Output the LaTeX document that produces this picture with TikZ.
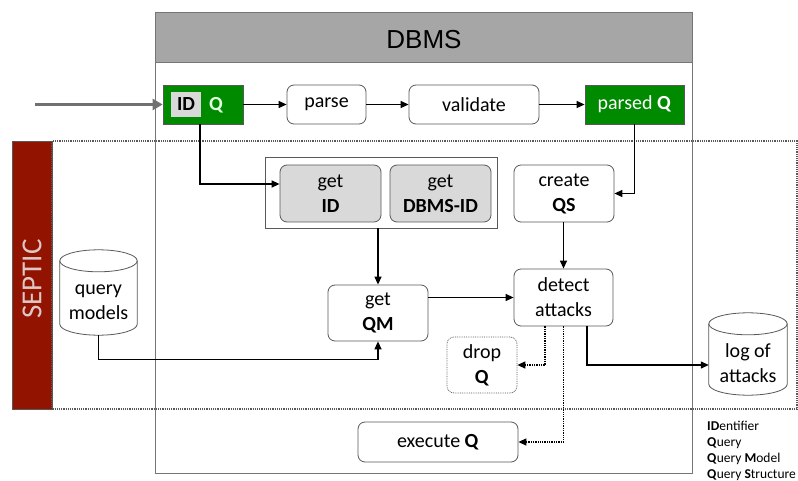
\documentclass[tikz,border=0pt]{standalone}
\usepackage{fontspec}
\setmainfont{Carlito}
\newfontfamily\headfont{Liberation Sans}
\usetikzlibrary{arrows.meta,calc}

\definecolor{hdrgray}{RGB}{166,166,166}
\definecolor{edge}{RGB}{89,89,89}
\definecolor{outer}{RGB}{118,118,118}
\definecolor{boxgray}{RGB}{217,217,217}
\definecolor{okgreen}{RGB}{0,138,0}
\definecolor{septred}{RGB}{145,19,0}
\definecolor{septtxt}{RGB}{222,200,198}
\definecolor{inarrow}{RGB}{112,112,112}

\tikzset{
  stepbox/.style={draw=edge, line width=0.8pt, rounded corners=7pt, fill=white,
    align=center, inner sep=0pt, font=\fontsize{20}{25}\selectfont},
  graybox/.style={stepbox, fill=boxgray},
  greenbox/.style={draw=edge, line width=0.8pt, fill=okgreen, text=white,
    inner sep=0pt, font=\fontsize{20}{25}\selectfont},
  dropbox/.style={stepbox, draw=edge, densely dotted},
  cylnode/.style={inner sep=0pt, minimum width=77pt},
  cyltext/.style={align=center, inner sep=0pt, font=\fontsize{20}{25}\selectfont},
  arr/.style={line width=1.3pt, -{Triangle[length=8pt,width=7pt]}},
  dotarr/.style={line width=1.3pt, densely dotted, -{Triangle[length=8pt,width=7pt]}},
  cylline/.style={draw=edge, line width=0.8pt, fill=white},
}

% cylinder outline around node #1 (top ellipse y radius #2)
\newcommand{\drawcyl}[2]{%
  \path let \p1=(#1.north west), \p2=(#1.south east) in
    \pgfextra{\pgfmathsetmacro{\rx}{(\x2-\x1)/2}}
    [cylline] (\x1,\y1-#2pt) -- (\x1,\y2+#2pt)
      arc[start angle=180, end angle=360, x radius=\rx pt, y radius=#2pt]
      -- (\x2,\y1-#2pt)
      arc[start angle=0, end angle=180, x radius=\rx pt, y radius=#2pt]
      -- cycle;
  \path let \p1=(#1.north west), \p2=(#1.south east) in
    \pgfextra{\pgfmathsetmacro{\rx}{(\x2-\x1)/2}}
    [draw=edge, line width=0.8pt] (\x1,\y1-#2pt)
      arc[start angle=180, end angle=360, x radius=\rx pt, y radius=#2pt];
}

\begin{document}
\begin{tikzpicture}[x=1pt,y=-1pt]
\useasboundingbox (0,0) rectangle (798,481);

% DBMS frame and header band
\draw[draw=outer, line width=0.8pt, fill=white] (155,12) rectangle (692,473);
\draw[draw=outer, line width=0.8pt, fill=hdrgray] (155,12) rectangle (692,62);
\node[font=\headfont\fontsize{26}{30}\selectfont] (dbms) at (424,40) {DBMS};

% SEPTIC area
\fill[septred] (12,141) rectangle (52,409);
\draw[edge, line width=0.6pt] (12,141) rectangle (52,409);
\node[rotate=90, text=septtxt, font=\fontsize{29}{32}\selectfont] (septic) at (32,279) {SEPTIC};
\draw[edge, line width=1.2pt, densely dotted] (52,141) rectangle (797,409);

% DBMS pipeline
\node[greenbox, minimum width=80pt, minimum height=39pt] (idq) at (203,104.5) {};
\node[fill=boxgray, inner sep=0pt, minimum width=30pt, minimum height=25pt,
      font=\bfseries\fontsize{20}{25}\selectfont] (idtag) at (186,104.5) {ID};
\node[text=green!12!white, inner sep=0pt, font=\bfseries\fontsize{20}{25}\selectfont]
      (qtag) at (216,105) {Q};
\node[stepbox, minimum width=79pt, minimum height=39pt] (parse) at (326.5,104.5) {parse};
\node[stepbox, minimum width=130pt, minimum height=39pt] (validate) at (474,104.5) {validate};
\node[greenbox, minimum width=99pt, minimum height=39pt] (parsedq) at (634.5,104.5) {parsed \textbf{Q}};

% SEPTIC steps
\node[draw=edge, line width=0.8pt, fill=white, minimum width=232pt, minimum height=71pt] (group) at (381,192.5) {};
\node[graybox, minimum width=101pt, minimum height=57pt] (getid) at (330.5,193.5) {get\\\textbf{ID}};
\node[graybox, minimum width=101pt, minimum height=57pt] (getdbms) at (440.5,193.5) {get\\\textbf{DBMS-ID}};
\node[stepbox, minimum width=100pt, minimum height=57pt] (createqs) at (564,193.5) {create\\\textbf{QS}};
\node[stepbox, minimum width=100pt, minimum height=56pt] (getqm) at (378,313) {get\\\textbf{QM}};
\node[stepbox, minimum width=99pt, minimum height=57pt] (detect) at (563.5,297.5) {detect\\attacks};
\node[dropbox, minimum width=70pt, minimum height=56pt] (drop) at (482,365) {drop\\\textbf{Q}};
\node[stepbox, minimum width=160pt, minimum height=40pt] (exec) at (438,442) {execute \textbf{Q}};

% stores
\node[cylnode, minimum height=85pt] (qmod) at (98.5,292.5) {};
\drawcyl{qmod}{11}
\node[cyltext] (qmodtxt) at (98.5,302) {query\\models};
\node[cylnode, minimum width=78pt, minimum height=82pt] (log) at (748,354) {};
\drawcyl{log}{11}
\node[cyltext] (logtxt) at (748,363) {log of\\attacks};

% connectors
\coordinate (inq) at (35,104.5);
\draw[line width=3pt, inarrow, -{Triangle[length=10pt,width=11pt]}] (inq) -- (idq.west);
\draw[arr] (idq) -- (parse);
\draw[arr] (parse) -- (validate);
\draw[arr] (validate) -- (parsedq);
\draw[arr] ([xshift=-3pt]idq.south) |- ($(getid.west)+(0,-9.5)$);
\draw[arr] (parsedq.south) |- (createqs.east);
\draw[arr] (getqm.north |- group.south) -- (getqm.north);
\draw[arr] (createqs.south -| detect.north) -- (detect.north);
\draw[arr] (getqm.east |- detect.west) -- (detect.west);
\draw[arr] (qmod.south) |- ($(getqm.south)+(0,18)$) -- (getqm.south);
\draw[dotarr] ($(detect.south)+(-18.5,0)$) |- (drop.east);
\draw[dotarr] (detect.south) |- (exec.east);
\draw[arr] ($(detect.south)+(23.5,0)$) |- ($(log.west)+(0,11)$);

% legend
\node[anchor=west, align=left, inner sep=0pt, font=\fontsize{13.5}{16}\selectfont] (legend) at (707,451)
  {\textbf{ID}entifier\\\textbf{Q}uery\\\textbf{Q}uery \textbf{M}odel\\\textbf{Q}uery \textbf{S}tructure};
\end{tikzpicture}
\end{document}
